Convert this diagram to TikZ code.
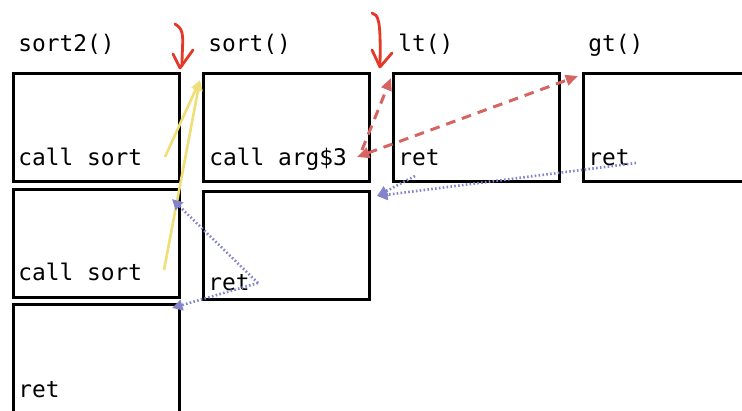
\documentclass[tikz,border=0pt]{standalone}
\usepackage{fontspec}
\setmonofont{DejaVu Sans Mono}
\usetikzlibrary{positioning, arrows.meta}

\definecolor{callyellow}{RGB}{240,222,120}
\definecolor{callred}{RGB}{214,100,96}
\definecolor{retblue}{RGB}{132,132,204}
\definecolor{inkred}{RGB}{228,56,40}

\begin{document}
\begin{tikzpicture}[x=0.02cm, y=-0.02cm,
	frame/.style={draw, line width=1.5pt, minimum width=3.32cm, minimum height=2.16cm,
		anchor=north west, inner sep=0pt},
	lbl/.style={font=\ttfamily\fontsize{13}{16}\selectfont, anchor=base west, inner sep=0pt},
	call/.style={callyellow, line width=1.5pt, -{Triangle[length=6pt,width=5pt]}},
	dcall/.style={callred, line width=1.7pt, dash pattern=on 5.5pt off 4pt,
		-{Triangle[length=7pt,width=6pt]}},
	back/.style={retblue, line width=1.5pt, dash pattern=on 0.9pt off 1.3pt,
		-{Triangle[length=6pt,width=6pt]}},
	ink/.style={inkred, line width=1.6pt, line cap=round, line join=round}]

\useasboundingbox (0,0) rectangle (742,410);

% stack frames
\node[frame] (s2a) at (12,72) {};
\node[frame] (s2b) at (12,188) {};
\node[frame] (s2c) at (12,303) {};
\node[frame] (sa) at (202,72) {};
\node[frame] (sb) at (202,190) {};
\node[frame] (lta) at (392,72) {};
\node[frame] (gta) at (582,72) {};

% function names
\node[lbl] (hsort2) at (18,51) {sort2()};
\node[lbl] (hsort) at (208,51) {sort()};
\node[lbl] (hlt) at (398,51) {lt()};
\node[lbl] (hgt) at (588,51) {gt()};

% instructions
\node[lbl] (callA) at (18,165) {call sort};
\node[lbl] (callB) at (18,280) {call sort};
\node[lbl] (retC) at (18,397) {ret};
\node[lbl] (callArg) at (209,165) {call arg\$3};
\node[lbl] (retS) at (208,290) {ret};
\node[lbl] (retLt) at (398,165) {ret};
\node[lbl] (retGt) at (588,165) {ret};

% end points
\coordinate (yA) at (165,157);
\coordinate (yB) at (164,270);
\coordinate (sortIn) at (200,80);
\coordinate (argOut) at (362,150);
\coordinate (argBack) at (357,157);
\coordinate (ltIn) at (391,78);
\coordinate (gtIn) at (578,76);
\coordinate (ltOut) at (415,176);
\coordinate (gtOut) at (636,163);
\coordinate (sortBack) at (377,196);
\coordinate (sOut) at (258,283);
\coordinate (s2bIn) at (172,199);
\coordinate (s2cIn) at (172,308);

% calls
\draw[call] (yA) -- (sortIn);
\draw[call] (yB) -- (sortIn);
\draw[dcall] (argOut) -- (ltIn);
\draw[dcall, {Triangle[length=7pt,width=6pt]}-{Triangle[length=7pt,width=6pt]}] (argBack) -- (gtIn);

% returns
\draw[back] (ltOut) -- (sortBack);
\draw[back] (gtOut) -- (sortBack);
\draw[back] (sOut) -- (s2bIn);
\draw[back] (sOut) -- (s2cIn);

% hand drawn marks
\draw[ink] (175,24) .. controls (186,30) and (182,40) .. (182,66);
\draw[ink] (173,54) -- (180,68) -- (193,50);
\draw[ink] (372,13) .. controls (378,15) and (381,18) .. (380,64);
\draw[ink] (372,50) -- (380,67) -- (392,53);
\end{tikzpicture}
\end{document}
